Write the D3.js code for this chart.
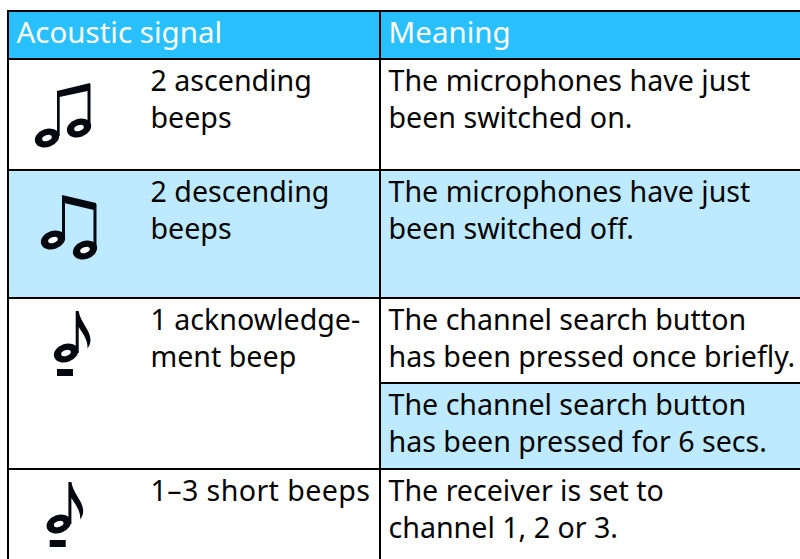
<!DOCTYPE html>
<html><head><meta charset="utf-8">
<script src="https://cdn.jsdelivr.net/npm/d3@7"></script>
<style>html,body{margin:0;padding:0;background:#fff}svg{display:block}</style>
</head><body><svg id="c" width="800" height="559"></svg>
<script>
const headers = ["Acoustic signal", "Meaning"];
const signals = [
  ["2 ascending", "beeps"],
  ["2 descending", "beeps"],
  ["1 acknowledge-", "ment beep"],
  ["1–3 short beeps"]
];
const meanings = [
  ["The microphones have just", "been switched on."],
  ["The microphones have just", "been switched off."],
  ["The channel search button", "has been pressed once briefly."],
  ["The channel search button", "has been pressed for 6 secs."],
  ["The receiver is set to", "channel 1, 2 or 3."]
];
const icons = ["up", "down", "single", "single"];

// layout
const W = 800, H = 559, L = 8, T = 11, colX = 380, HB = 59;
const rowEdges = [59, 170, 298, 469, 559];
const meanEdges = [59, 170, 298, 383, 469, 559];
const meanShade = [false, true, false, true, false];
const sigShade = [false, true, false, false];
const sigBase = [91, 202, 330, 501];
const meanBase = [91, 202, 330, 415, 501];
const sigSpacing = [0, 0, 0, 0.4];
const LH = 37, FS = 28.6, HFS = 29.5, INK = "#05080f";
const HEAD = "#29c0ff", LIGHT = "#bdeaff";

const svg = d3.select("#c");
const font = "'Noto Sans', sans-serif";

svg.append("rect").attr("x", L).attr("y", T).attr("width", W - L).attr("height", HB - T).attr("fill", HEAD);
svg.selectAll(".ss").data(signals).join("rect")
  .attr("x", L).attr("y", (d, i) => rowEdges[i]).attr("width", colX - L)
  .attr("height", (d, i) => rowEdges[i + 1] - rowEdges[i])
  .attr("fill", (d, i) => sigShade[i] ? LIGHT : "#fff");
svg.selectAll(".ms").data(meanings).join("rect")
  .attr("x", colX).attr("y", (d, i) => meanEdges[i]).attr("width", W - colX)
  .attr("height", (d, i) => meanEdges[i + 1] - meanEdges[i])
  .attr("fill", (d, i) => meanShade[i] ? LIGHT : "#fff");

// rules
const rule = (x1, y1, x2, y2) => svg.append("line").attr("x1", x1).attr("y1", y1).attr("x2", x2).attr("y2", y2)
  .attr("stroke", "#000").attr("stroke-width", 2);
rule(L - 1, T, W, T); rule(L, T, L, H); rule(colX, T, colX, H); rule(L, HB, W, HB);
rowEdges.slice(1, 4).forEach(y => rule(L, y, W, y));
rule(colX, meanEdges[3], W, meanEdges[3]);

// text
function lines(lst, x, bases, spacing) {
  lst.forEach((ls, i) => ls.forEach((s, j) =>
    svg.append("text").attr("x", x).attr("y", bases[i] + j * LH).text(s)
      .attr("font-family", font).attr("font-size", FS).attr("fill", "#050505")
      .attr("letter-spacing", spacing ? spacing[i] : 0)));
}
lines(signals, 150.5, sigBase, sigSpacing);
lines(meanings, 388.5, meanBase);
svg.selectAll(".h").data(headers).join("text")
  .attr("x", (d, i) => i ? 388.5 : 16.5).attr("y", 43).text(d => d)
  .attr("font-family", font).attr("font-size", HFS).attr("fill", "#fff");

// note glyphs
function head(g, cx, cy) {
  const n = g.append("g").attr("transform", `translate(${cx},${cy}) rotate(-20)`);
  n.append("ellipse").attr("rx", 12.5).attr("ry", 9).attr("fill", INK);
  n.append("ellipse").attr("rx", 5).attr("ry", 2.8).attr("fill", "#fff");
}
const shapes = {
  up(g) {
    g.append("path").attr("fill", INK).attr("d", "M57,91L90,83V90.5L57,97.5Z");
    g.append("path").attr("fill", INK).attr("d", "M57,91H59.7V136H57ZM87.5,84H90.5V127H87.5Z");
    head(g, 47, 138); head(g, 79, 128);
  },
  down(g) {
    g.append("path").attr("fill", INK).attr("d", "M62,195L96,203V210.5L62,202.5Z");
    g.append("path").attr("fill", INK).attr("d", "M62,196H65V240H62ZM93.5,204H96.5V250H93.5Z");
    head(g, 53, 240); head(g, 85, 250);
  },
  single(g) {
    g.append("path").attr("fill", INK)
      .attr("d", "M75.7,311H78.7C80,322 90.5,330 90.5,340C90.5,344 89,346 87.5,348.5C88,341 84,335 78.7,327V353H75.7Z");
    head(g, 66, 353);
    g.append("rect").attr("x", 57).attr("y", 369).attr("width", 16).attr("height", 7).attr("fill", INK);
  }
};
const iconShift = [[0, 0], [0, 0], [0, 0], [-7.3, 171]];
icons.forEach((k, i) => shapes[k](svg.append("g").attr("transform", `translate(${iconShift[i]})`)));
</script></body></html>
